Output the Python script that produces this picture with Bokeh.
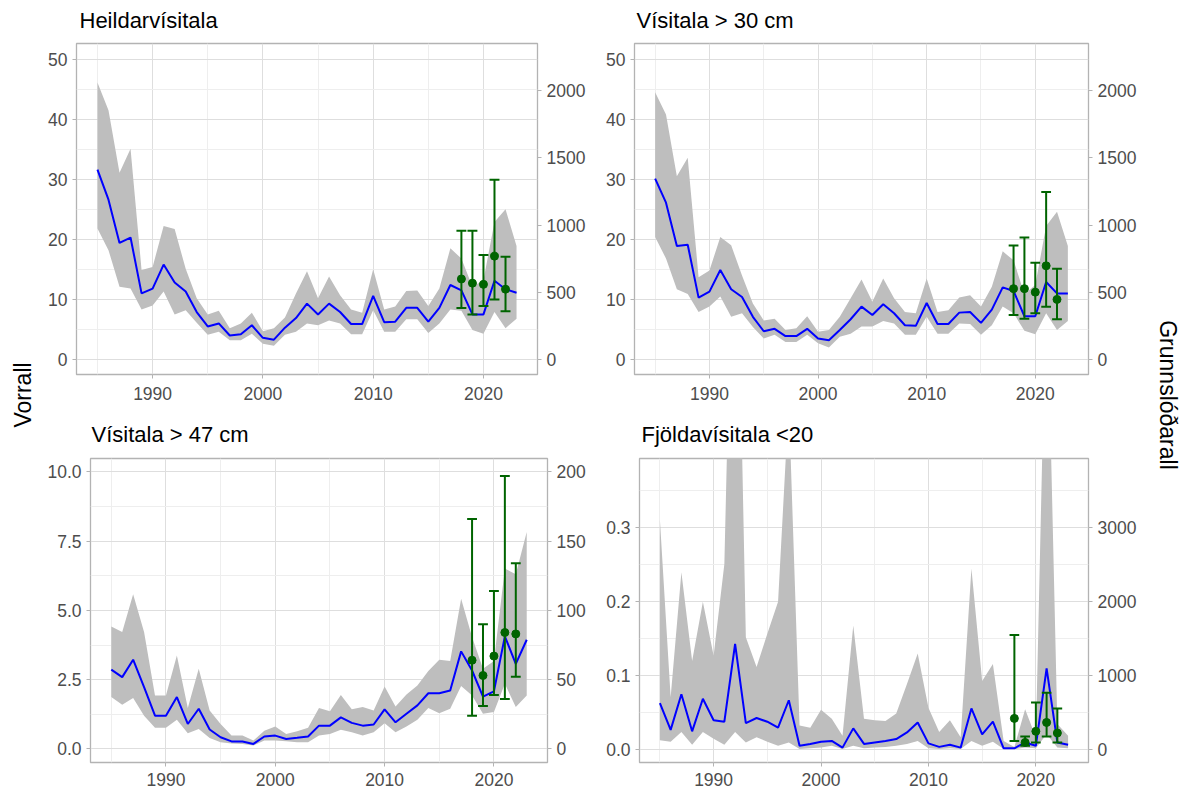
import math
from bokeh.plotting import figure
from bokeh.models import Range1d, LinearAxis, FixedTicker, NumeralTickFormatter
from bokeh.layouts import row, column
from bokeh.embed import file_html
from bokeh.resources import INLINE
from bokeh.core.properties import value

years = list(range(1985, 2024))
g_years = [2018, 2019, 2020, 2021, 2022]

titles = ["Heildarvísitala", "Vísitala > 30 cm", "Vísitala > 47 cm", "Fjöldavísitala <20"]
left_title = "Vorrall"
right_title = "Grunnslóðarall"

# Panel 1: Heildarvísitala (Vorrall index + CI; Grunnslóðarall points)
idx1 = [31.6, 26.6, 19.4, 20.3, 11.0, 11.8, 15.8, 12.8, 11.3, 7.9, 5.5, 6.0, 4.0, 4.2, 5.7, 3.6, 3.3, 5.3, 6.9, 9.3,
        7.5, 9.3, 7.9, 5.9, 5.9, 10.6, 6.2, 6.3, 8.6, 8.6, 6.3, 8.6, 12.4, 11.5, 7.5, 7.5, 13.1, 11.7, 11.1]
up1 = [46.1, 41.5, 31.1, 35.1, 14.9, 15.4, 22.2, 21.7, 15.1, 10.2, 7.5, 8.1, 5.2, 6.0, 7.8, 4.7, 5.2, 7.0, 11.0, 14.7,
       10.2, 13.8, 10.7, 8.3, 7.8, 15.0, 8.3, 8.8, 11.4, 11.5, 8.9, 11.8, 18.5, 16.8, 12.1, 13.2, 22.9, 25.0, 18.9]
lo1 = [21.8, 18.2, 12.1, 11.8, 8.3, 9.0, 11.3, 7.5, 8.2, 6.1, 4.1, 4.6, 3.2, 3.2, 4.3, 2.6, 2.3, 4.1, 4.6, 6.0,
       5.7, 6.5, 6.0, 4.2, 4.2, 8.2, 4.6, 4.6, 6.7, 6.7, 4.4, 6.0, 8.3, 8.1, 4.9, 4.3, 7.9, 5.2, 6.8]
g1 = [599, 568, 559, 769, 523]
g1_lo = [384, 335, 398, 447, 358]
g1_hi = [957, 957, 778, 1337, 764]

# Panel 2: Vísitala > 30 cm
idx2 = [30.1, 26.1, 18.9, 19.1, 10.3, 11.3, 14.9, 11.7, 10.4, 7.1, 4.7, 5.1, 3.9, 3.9, 5.1, 3.5, 3.2, 4.9, 6.7, 8.8,
        7.4, 9.2, 7.7, 5.7, 5.6, 9.4, 5.9, 5.9, 7.8, 7.9, 6.1, 8.3, 12.0, 11.4, 7.2, 7.2, 12.9, 11.0, 11.0]
up2 = [44.5, 40.8, 30.5, 33.6, 13.7, 14.8, 20.4, 19.0, 14.0, 9.3, 6.5, 6.8, 4.9, 5.2, 7.2, 4.6, 4.9, 7.1, 10.2, 13.3,
       9.6, 13.5, 10.2, 7.9, 7.7, 13.5, 7.9, 8.2, 10.3, 10.7, 8.8, 12.1, 18.0, 16.5, 10.9, 12.4, 22.2, 24.6, 18.9]
lo2 = [20.4, 16.8, 11.7, 10.9, 7.9, 8.8, 10.5, 7.1, 7.7, 5.4, 3.5, 4.1, 2.9, 2.9, 4.1, 2.7, 2.0, 3.8, 4.3, 5.5,
       5.5, 6.4, 6.0, 4.1, 4.1, 7.1, 4.3, 4.3, 6.0, 5.9, 4.1, 5.7, 8.8, 7.7, 4.8, 4.2, 7.7, 4.9, 6.4]
g2 = [527, 527, 501, 697, 447]
g2_lo = [331, 304, 344, 393, 299]
g2_hi = [849, 907, 720, 1247, 675]

# Panel 3: Vísitala > 47 cm
idx3 = [2.86, 2.59, 3.22, 2.23, 1.20, 1.20, 1.87, 0.90, 1.45, 0.70, 0.42, 0.27, 0.27, 0.18, 0.45, 0.48, 0.36, 0.40, 0.45, 0.84,
        0.84, 1.14, 0.94, 0.84, 0.88, 1.43, 0.96, 1.27, 1.57, 2.01, 2.01, 2.11, 3.52, 2.83, 1.89, 2.08, 4.06, 3.07, 3.94]
up3 = [4.42, 4.22, 5.58, 4.22, 1.93, 1.93, 3.37, 1.48, 2.89, 1.39, 0.90, 0.48, 0.48, 0.30, 0.66, 0.81, 0.54, 0.64, 0.76, 1.48,
       1.36, 1.95, 1.43, 1.51, 1.39, 2.25, 1.53, 1.96, 2.29, 2.81, 3.22, 3.17, 5.42, 4.04, 2.89, 3.17, 6.51, 6.30, 7.83]
lo3 = [1.87, 1.59, 1.84, 1.20, 0.76, 0.76, 1.05, 0.57, 0.72, 0.39, 0.24, 0.20, 0.18, 0.12, 0.30, 0.30, 0.28, 0.24, 0.24, 0.48,
       0.54, 0.69, 0.60, 0.48, 0.60, 0.93, 0.60, 0.81, 1.05, 1.48, 1.29, 1.45, 2.27, 1.93, 1.27, 1.33, 2.35, 1.51, 1.93]
g3 = [64, 53, 67, 84, 83]
g3_lo = [24, 31, 39, 36, 52]
g3_hi = [166, 90, 114, 197, 134]

# Panel 4: Fjöldavísitala <20
idx4 = [0.062, 0.026, 0.074, 0.024, 0.068, 0.039, 0.037, 0.142, 0.035, 0.042, 0.037, 0.029, 0.066, 0.0045, 0.007, 0.010,
        0.011, 0.002, 0.028, 0.007, 0.009, 0.011, 0.0135, 0.0225, 0.036, 0.0077, 0.003, 0.006, 0.002, 0.055, 0.020, 0.037,
        0.001, 0.001, 0.009, 0.0045, 0.109, 0.009, 0.006]
up4 = [0.31, 0.070, 0.239, 0.119, 0.199, 0.126, 0.250, 0.87, 0.151, 0.111, 0.156, 0.199, 0.47, 0.032, 0.029, 0.053,
       0.041, 0.018, 0.167, 0.041, 0.039, 0.038, 0.048, 0.088, 0.129, 0.056, 0.023, 0.039, 0.016, 0.244, 0.092, 0.115,
       0.011, 0.003, 0.054, 0.016, 0.66, 0.034, 0.018]
lo4 = [0.012, 0.010, 0.023, 0.006, 0.023, 0.014, 0.006, 0.023, 0.009, 0.016, 0.010, 0.0045, 0.009, 0.000, 0.001, 0.002,
       0.0045, 0.000, 0.0045, 0.001, 0.002, 0.003, 0.0045, 0.007, 0.011, 0.001, 0.000, 0.001, 0.000, 0.011, 0.0045, 0.010,
       0.000, 0.000, 0.002, 0.001, 0.020, 0.002, 0.001]
g4 = [415, 90, 240, 360, 217]
g4_lo = [110, 45, 90, 170, 90]
g4_hi = [1540, 170, 630, 760, 550]

x_ticks = [1990, 2000, 2010, 2020]
x_minor = [1985, 1995, 2005, 2015, 2025]

FONT = "Liberation Sans"
TICK_COL = "#4D4D4D"
LINE_COL = "#B3B3B3"


def panel(idx, lo, hi, g, glo, ghi, ylim, k, lticks, lminor, rticks, lfmt,
          fw, fh, bl, br, bb, xstand):
    p = figure(frame_width=fw, frame_height=fh,
               min_border_left=bl, min_border_right=br, min_border_top=2, min_border_bottom=bb,
               x_range=Range1d(1983.1, 2024.9), y_range=Range1d(*ylim),
               toolbar_location=None, output_backend="svg")
    p.extra_y_ranges = {"sec": Range1d(ylim[0] * k, ylim[1] * k)}
    rax = LinearAxis(y_range_name="sec")
    p.add_layout(rax, "right")

    p.xaxis.ticker = FixedTicker(ticks=x_ticks, minor_ticks=x_minor)
    p.yaxis[0].ticker = FixedTicker(ticks=lticks, minor_ticks=lminor)
    p.yaxis[0].formatter = NumeralTickFormatter(format=lfmt)
    rax.ticker = FixedTicker(ticks=rticks)
    rax.formatter = NumeralTickFormatter(format="0")

    for ax in p.axis:
        ax.axis_line_color = None
        ax.major_tick_line_color = LINE_COL
        ax.major_tick_line_width = 1
        ax.major_tick_in = 0
        ax.major_tick_out = 4
        ax.minor_tick_line_color = None
        ax.major_label_text_font = FONT
        ax.major_label_text_font_size = "17.5px"
        ax.major_label_text_color = TICK_COL
        ax.major_label_standoff = 5
    p.xaxis.major_label_standoff = xstand

    for gr in (p.xgrid, p.ygrid):
        gr.grid_line_color = "#DEDEDE"
        gr.grid_line_width = 1
        gr.minor_grid_line_color = "#EEEEEE"
        gr.minor_grid_line_width = 1

    p.outline_line_color = LINE_COL
    p.outline_line_width = 1.3
    p.background_fill_color = "white"
    p.border_fill_color = "white"

    p.varea(x=years, y1=lo, y2=hi, fill_color="#BEBEBE", fill_alpha=1.0)
    p.line(x=years, y=idx, line_color="#0000FF", line_width=2)

    p.segment(x0=g_years, y0=glo, x1=g_years, y1=ghi, line_color="#006400", line_width=2, y_range_name="sec")
    p.segment(x0=[y - 0.45 for y in g_years], y0=glo, x1=[y + 0.45 for y in g_years], y1=glo,
              line_color="#006400", line_width=2, y_range_name="sec")
    p.segment(x0=[y - 0.45 for y in g_years], y0=ghi, x1=[y + 0.45 for y in g_years], y1=ghi,
              line_color="#006400", line_width=2, y_range_name="sec")
    p.scatter(x=g_years, y=g, size=8, fill_color="#006400", line_color="#006400", y_range_name="sec")
    return p


p1 = panel(idx1, lo1, up1, g1, g1_lo, g1_hi, (-2.5, 52.6), 44.7,
           [0, 10, 20, 30, 40, 50], [5, 15, 25, 35, 45], [0, 500, 1000, 1500, 2000], "0",
           461, 331, 40, 53, 36, 8)
p2 = panel(idx2, lo2, up2, g2, g2_lo, g2_hi, (-2.5, 52.6), 44.7,
           [0, 10, 20, 30, 40, 50], [5, 15, 25, 35, 45], [0, 500, 1000, 1500, 2000], "0",
           454, 331, 44, 57, 36, 8)
p3 = panel(idx3, lo3, up3, g3, g3_lo, g3_hi, (-0.49, 10.48), 20,
           [0, 2.5, 5, 7.5, 10], [1.25, 3.75, 6.25, 8.75], [0, 50, 100, 150, 200], "0.0",
           457, 304, 54, 43, 27, 6)
p4 = panel(idx4, lo4, up4, g4, g4_lo, g4_hi, (-0.0181, 0.3926), 10000,
           [0, 0.1, 0.2, 0.3], [0.05, 0.15, 0.25, 0.35], [0, 1000, 2000, 3000], "0.0",
           449, 304, 49, 57, 27, 6)


def bare(w, h):
    s = figure(width=w, height=h, x_range=Range1d(0, w), y_range=Range1d(0, h),
               x_axis_location=None, y_axis_location=None, toolbar_location=None,
               output_backend="svg", min_border=0)
    s.outline_line_color = None
    s.xgrid.visible = False
    s.ygrid.visible = False
    return s


def strip(w, h, txt, xc, yc, ang):
    s = bare(w, h)
    s.text(x=[xc], y=[yc], text=[txt], angle=ang, text_align="center", text_baseline="middle",
           text_font=value(FONT), text_font_size="23px", text_color="black")
    return s


def title_strip(w, h, txts, xs, yc):
    s = bare(w, h)
    s.text(x=xs, y=[yc] * len(xs), text=txts, text_align="left", text_baseline="middle",
           text_font=value(FONT), text_font_size="22px", text_color="black")
    return s


H = 789
ls = strip(36, H, left_title, 22, H - 394.5, math.pi / 2)
rs = strip(42, H, right_title, 22, H - 394.5, -math.pi / 2)
t1 = title_strip(1109, 41, titles[0:2], [43, 600], 20.6)
t2 = title_strip(1109, 46, titles[2:4], [55, 605], 22)

layout = row(ls, column(t1, row(p1, p2), t2, row(p3, p4)), rs)

open("out.html", "w").write(file_html(layout, INLINE))
